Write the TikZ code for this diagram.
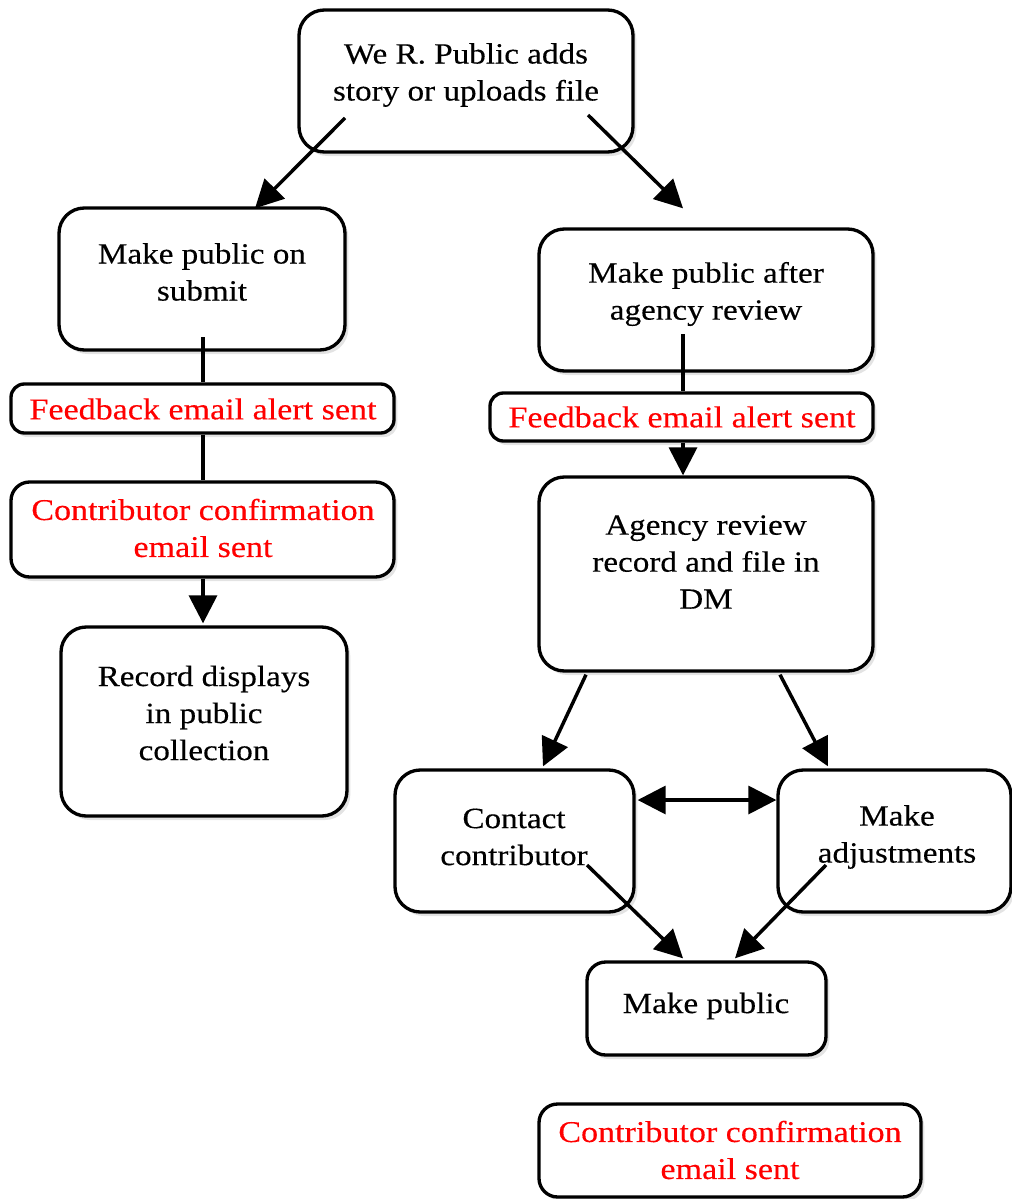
\documentclass[tikz,border=0pt]{standalone}
\usepackage{fontspec}
\setmainfont[FakeStretch=1.13,FakeBold=0.3]{Liberation Serif}
\usetikzlibrary{arrows.meta,shadows,calc}
\begin{document}
\begin{tikzpicture}[x=0.75pt,y=-0.75pt,
  box/.style={draw, line width=2.5pt, rounded corners=19pt, fill=white, inner sep=0pt,
    drop shadow={opacity=0.22, shadow xshift=2.5pt, shadow yshift=-3pt}},
  sbox/.style={box, rounded corners=10pt},
  txt/.style={align=center, inner sep=0pt, font=\fontsize{22}{27.75}\selectfont},
  rtxt/.style={align=center, inner sep=0pt, text=red, font=\fontsize{22.6}{27.75}\selectfont},
  ln/.style={line width=2.6pt},
  arr/.style={line width=2.6pt, -{Triangle[length=21pt,width=21pt]}},
  darr/.style={line width=2.6pt, {Triangle[length=21pt,width=21pt]}-{Triangle[length=21pt,width=21pt]}}]
\useasboundingbox (0,0) rectangle (1012,1199);
% boxes
\node[box, minimum width=250.5pt, minimum height=106.5pt] (top) at (466,81) {};
\node[box, minimum width=214.5pt, minimum height=106.5pt] (submit) at (202,279) {};
\node[box, minimum width=250.5pt, minimum height=106.5pt] (after) at (706,300) {};
\node[sbox, minimum width=287.25pt, minimum height=36.75pt] (fb1) at (202.5,408.5) {};
\node[box, rounded corners=14pt, minimum width=287.25pt, minimum height=71.25pt] (cc1) at (202.5,529.5) {};
\node[box, minimum width=214.5pt, minimum height=141.75pt] (rec) at (204,721.5) {};
\node[sbox, minimum width=287.25pt, minimum height=36pt] (fb2) at (681.5,417) {};
\node[box, minimum width=250.5pt, minimum height=145.5pt] (agency) at (706,574) {};
\node[box, minimum width=179.25pt, minimum height=106.5pt] (contact) at (514.5,841) {};
\node[box, minimum width=174.75pt, minimum height=106.5pt] (adjust) at (894.5,841) {};
\node[box, rounded corners=14pt, minimum width=179.25pt, minimum height=69.75pt] (makepub) at (706.5,1008.5) {};
\node[box, rounded corners=14pt, minimum width=286.5pt, minimum height=69.75pt] (cc2) at (730,1150.5) {};
% texts
\node[txt] (topT) at (466,75) {We R. Public adds\\story or uploads file};
\node[txt] (submitT) at (202,272) {Make public on\\submit};
\node[txt] (afterT) at (706,294) {Make public after\\agency review};
\node[rtxt] (fb1T) at (203,409) {Feedback email alert sent};
\node[rtxt] (cc1T) at (203,528) {Contributor confirmation\\email sent};
\node[txt] (recT) at (204,713) {Record displays\\in public\\collection};
\node[rtxt] (fb2T) at (682,417) {Feedback email alert sent};
\node[txt] (agencyT) at (706,562) {Agency review\\record and file in\\DM};
\node[txt] (contactT) at (514,837) {Contact\\contributor};
\node[txt] (adjustT) at (897,837) {Make\\adjustments};
\node[txt] (makepubT) at (706,1006) {Make public};
\node[rtxt] (cc2T) at (730,1150) {Contributor confirmation\\email sent};
% connectors
\draw[arr] ($(top.center)+(-121,37)$) -- ($(submit.north)+(53,2)$);
\draw[arr] ($(top.center)+(122,34)$) -- ($(after.north)+(-23,-19)$);
\draw[ln] ($(submit.center)+(1,58)$) -- ($(fb1.north)+(0.5,0)$);
\draw[ln] ($(fb1.south)+(0.5,0)$) -- ($(cc1.north)+(0.5,0)$);
\draw[arr] ($(cc1.south)+(0.5,0)$) -- ($(rec.north)+(-1,-2)$);
\draw[ln] ($(after.center)+(-23,34)$) -- ($(fb2.north)+(1.5,0)$);
\draw[arr] ($(fb2.south)+(1.5,0)$) -- ($(agency.north)+(-23,0)$);
\draw[arr] ($(agency.south)+(-120,2)$) -- ($(contact.north)+(28.5,-2)$);
\draw[arr] ($(agency.south)+(74,2)$) -- ($(adjust.north)+(-66.5,-2)$);
\draw[darr] ($(contact.east)+(2,-41)$) -- ($(adjust.west)+(0,-41)$);
\draw[arr] ($(contact.center)+(72.5,24)$) -- ($(makepub.north)+(-23.5,-2)$);
\draw[arr] ($(adjust.center)+(-68.5,24)$) -- ($(makepub.north)+(28.5,-2)$);
\end{tikzpicture}
\end{document}
